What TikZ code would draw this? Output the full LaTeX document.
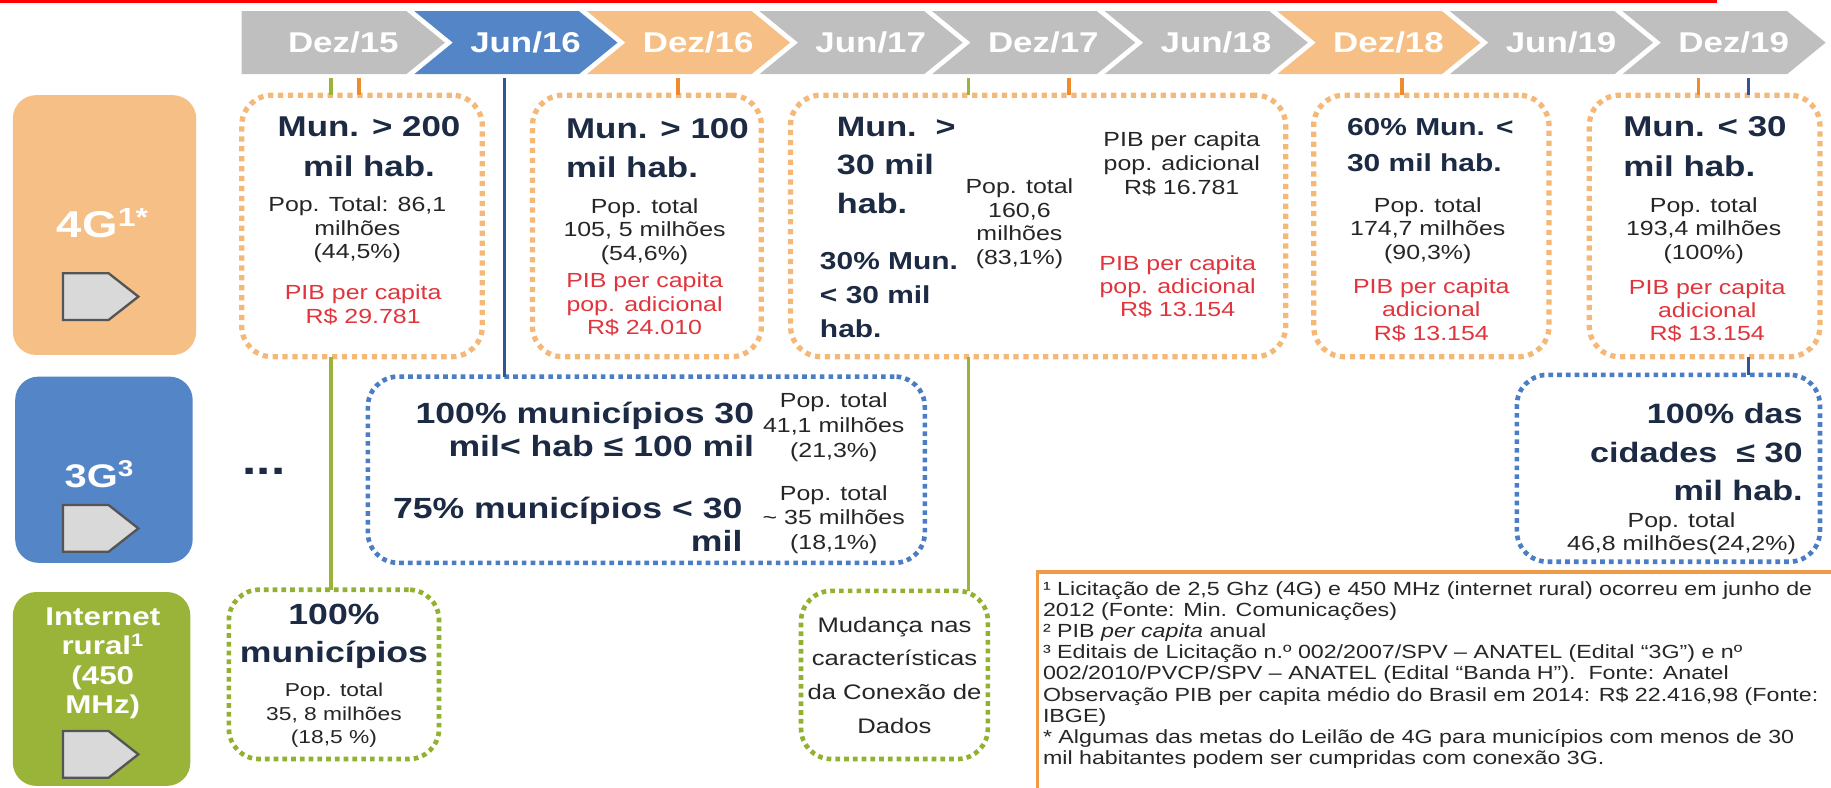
\documentclass[tikz,border=0pt]{standalone}
\usepackage{fontspec}
\setmainfont{Liberation Sans}[FakeStretch=1.22]
\usetikzlibrary{calc}

\definecolor{cgray}{HTML}{BFBFBF}
\definecolor{cblue}{HTML}{5385C7}
\definecolor{corange}{HTML}{F5BF86}
\definecolor{cgreen}{HTML}{9AB43A}
\definecolor{dorange}{HTML}{F4B878}
\definecolor{dblue}{HTML}{4A7DC4}
\definecolor{dgreen}{HTML}{93B130}
\definecolor{torange}{HTML}{EE8B2C}
\definecolor{tblue}{HTML}{2F5597}
\definecolor{hdark}{HTML}{1C2A43}
\definecolor{tdark}{HTML}{262626}
\definecolor{tred}{HTML}{E0353D}
\definecolor{tagfill}{HTML}{D9D9D9}
\definecolor{tagline}{HTML}{555555}
\definecolor{fnline}{HTML}{F09A45}

\newcommand\fsz[2]{\fontsize{#1}{#2}\selectfont}

\begin{document}
\begin{tikzpicture}[x=1pt, y=-1pt,
	chlabel/.style={text=white, font=\bfseries\fsz{24.5}{28}, inner sep=0pt},
	catbox/.style={rounded corners=20pt, inner sep=0pt, outer sep=0pt},
	cattext/.style={text=white, font=\bfseries\fsz{32}{36}, inner sep=0pt, align=center},
	tag/.style={fill=tagfill, draw=tagline, line width=2pt},
	obox/.style={draw=dorange, fill=white, line width=4.5pt, dash pattern=on 4.5pt off 4pt, rounded corners=26pt, inner sep=0pt, outer sep=0pt},
	bbox/.style={obox, draw=dblue, line width=4pt, dash pattern=on 4pt off 3.5pt},
	gbox/.style={obox, draw=dgreen, line width=4pt, dash pattern=on 4pt off 3.5pt},
	head/.style={text=hdark, font=\bfseries\fsz{24.5}{34}, inner sep=0pt},
	small/.style={text=tdark, font=\fsz{17.5}{20}, inner sep=0pt, align=center, anchor=north},
	pib/.style={small, text=tred},
	otick/.style={draw=torange, line width=3pt},
	gline/.style={draw=cgreen, line width=3pt},
	bline/.style={draw=tblue, line width=3pt},
	]

	\useasboundingbox (0,0) rectangle (1568,674);
	\draw[red, line width=3pt] (0,1) -- (1470,1); % top rule

	% time line
	\foreach \m/\yr/\col [count=\i from 0] in {Dez/15/cgray, Jun/16/cblue, Dez/16/corange, Jun/17/cgray, Dez/17/cgray, Jun/18/cgray, Dez/18/corange, Jun/19/cgray, Dez/19/cgray}{
		\pgfmathsetmacro\cx{207+147.8*\i}
		\pgfmathsetmacro\nd{\i==0 ? 0 : 33}
		\fill[\col] (\cx,9.5) -- ++(141,0) -- ++(33,27) -- ++(-33,27) -- ++(-141,0) -- (\cx+\nd,36.5) -- cycle;
		\node[chlabel] (ch\i) at (\cx+87+\nd/4,36.5) {\m/\yr};
	}

	% categories
	\node[catbox, fill=corange, minimum width=157, minimum height=222.5] (cat4g) at (89.5,192.75) {};
	\node[catbox, fill=cblue, minimum width=152, minimum height=159.5] (cat3g) at (89,402.25) {};
	\node[catbox, fill=cgreen, minimum width=152, minimum height=166] (catnet) at (87,590) {};
	\node[cattext] (lbl4g) at (88,191) {4G\textsuperscript{1*}};
	\node[cattext, font=\bfseries\fsz{28}{32}] (lbl3g) at (85,406) {3G\textsuperscript{3}};
	\node[cattext, font=\bfseries\fsz{22}{25}] (lblnet) at (88,568) {Internet\\rural\textsuperscript{1}\\(450\\MHz)};
	\foreach \ty in {234, 432.5, 626}
		\draw[tag] (54,\ty) -- ++(39,0) -- ++(25.5,20) -- ++(-25.5,20) -- ++(-39,0) -- cycle;

	% 4G boxes
	\node[obox, minimum width=206, minimum height=224] (mA) at (310,193.5) {};
	\node[obox, minimum width=196, minimum height=224] (mB) at (554,193.5) {};
	\node[obox, minimum width=424, minimum height=224] (mC) at (889,193.5) {};
	\node[obox, minimum width=201.5, minimum height=224] (mD) at (1225.75,193.5) {};
	\node[obox, minimum width=197.5, minimum height=224] (mE) at (1459.75,193.5) {};

	\node[head, align=center, anchor=north] (hA) at (316,100) {Mun. > 200\\mil hab.};
	\node[small] (pA) at (306,168.5) {Pop. Total: 86,1\\milhões\\(44,5\%)};
	\node[pib] (rA) at (311,244) {PIB per capita\\R\$ 29.781};

	\node[head, align=left, anchor=north west] (hB) at (484.6,101) {Mun. > 100\\mil hab.};
	\node[small] (pB) at (552,170) {Pop. total\\105, 5 milhões\\(54,6\%)};
	\node[pib] (rB) at (552,233.5) {PIB per capita\\pop. adicional\\R\$ 24.010};

	\node[head, align=left, anchor=north west, font=\bfseries\fsz{24}{33}] (hC) at (716.5,100) {Mun.\ \ >\\30 mil\\hab.};
	\node[head, align=left, anchor=north west, font=\bfseries\fsz{21}{29.3}] (hC2) at (702,215.5) {30\% Mun.\\< 30 mil\\hab.};
	\node[small, font=\fsz{17.5}{20.4}] (pC) at (873,152.7) {Pop. total\\160,6\\milhões\\(83,1\%)};
	\node[small, font=\fsz{17.5}{20.3}] (kC) at (1012,112.8) {PIB per capita\\pop. adicional\\R\$ 16.781};
	\node[pib] (rC) at (1008.5,218.4) {PIB per capita\\pop. adicional\\R\$ 13.154};

	\node[head, align=left, anchor=north west, font=\bfseries\fsz{21}{31}] (hD) at (1153.4,101.4) {60\% Mun. <\\30 mil hab.};
	\node[small] (pD) at (1222.7,169) {Pop. total\\174,7 milhões\\(90,3\%)};
	\node[pib] (rD) at (1225.7,238.4) {PIB per capita\\adicional\\R\$ 13.154};

	\node[head, align=left, anchor=north west] (hE) at (1390,100) {Mun. < 30\\mil hab.};
	\node[small] (pE) at (1459,169) {Pop. total\\193,4 milhões\\(100\%)};
	\node[pib] (rE) at (1462,239) {PIB per capita\\adicional\\R\$ 13.154};

	% 3G boxes
	\node[head, font=\bfseries\fsz{36}{36}] (dots) at (226,404) {...};
	\node[bbox, minimum width=477, minimum height=159.5] (b3a) at (553.5,402.25) {};
	\node[head, align=right, anchor=north east, font=\bfseries\fsz{25}{28.5}] (tA1) at (646,344) {100\% municípios 30\\mil< hab ≤ 100 mil};
	\node[head, align=right, anchor=north east, font=\bfseries\fsz{25}{28.5}] (tA2) at (636,425.5) {75\% municípios < 30\\mil};
	\node[small, font=\fsz{17.5}{21.4}] (sA1) at (714,336) {Pop. total\\41,1 milhões\\(21,3\%)};
	\node[small, font=\fsz{17.5}{21}] (sA2) at (714,415.7) {Pop. total\\\textasciitilde{} 35 milhões\\(18,1\%)};

	\node[bbox, minimum width=259.5, minimum height=160] (b3b) at (1428.75,401) {};
	\node[head, align=right, anchor=north east, font=\bfseries\fsz{24}{32.8}] (tB1) at (1544,345.4) {100\% das\\cidades\ \ ≤ 30\\mil hab.};
	\node[small] (sB1) at (1440,438.5) {Pop. total\\46,8 milhões(24,2\%)};

	% internet rural boxes
	\node[gbox, minimum width=180, minimum height=145] (g1) at (286,577.5) {};
	\node[head, align=center, anchor=north, font=\bfseries\fsz{25}{33}] (tg1) at (286,517) {100\%\\municípios};
	\node[small, font=\fsz{16}{20}] (sg1) at (286,585) {Pop. total\\35, 8 milhões\\(18,5 \%)};

	\node[gbox, minimum width=160, minimum height=144] (mud) at (766,578) {};
	\node[small, font=\fsz{18}{29}] (tmud) at (766,528) {Mudança nas\\características\\da Conexão de\\Dados};

	% notes
	\node[draw=fnline, line width=3pt, anchor=north west, minimum width=700, minimum height=200, inner sep=0pt, outer sep=0pt] (notebox) at (888.5,490) {};
	\node[anchor=north west, align=left, inner sep=0pt, text=tdark, font=\fsz{16.3}{18}] (notes) at (893,498.3) {%
		¹ Licitação de 2,5 Ghz (4G) e 450 MHz (internet rural) ocorreu em junho de\\
		2012 (Fonte: Min. Comunicações)\\
		² PIB \textit{per capita} anual\\
		³ Editais de Licitação n.º 002/2007/SPV – ANATEL (Edital “3G”) e nº\\
		002/2010/PVCP/SPV – ANATEL (Edital “Banda H”).\ \ Fonte: Anatel\\
		Observação PIB per capita médio do Brasil em 2014: R\$ 22.416,98 (Fonte:\\
		IBGE)\\
		* Algumas das metas do Leilão de 4G para municípios com menos de 30\\
		mil habitantes podem ser cumpridas com conexão 3G.};

	% ticks and links
	\coordinate (tkA) at (283.5,67);
	\coordinate (tkA2) at (307.5,67);
	\coordinate (tkJ) at (432,67);
	\coordinate (tkB) at (580.5,67);
	\coordinate (tkC) at (829.5,67);
	\coordinate (tkC2) at (915.5,67);
	\coordinate (tkD) at (1200.5,67);
	\coordinate (tkE) at (1454.5,67);
	\coordinate (tkE2) at (1497.5,67);

	\draw[gline] (tkA) -- (mA.north -| tkA);
	\draw[gline] (mA.south -| tkA) -- (g1.north -| tkA);
	\draw[otick] (tkA2) -- (mA.north -| tkA2);
	\draw[bline] (tkJ) -- (b3a.north -| tkJ);
	\draw[otick] (tkB) -- (mB.north -| tkB);
	\draw[gline] (tkC) -- (mC.north -| tkC);
	\draw[gline] (mC.south -| tkC) -- (mud.north -| tkC);
	\draw[otick] (tkC2) -- (mC.north -| tkC2);
	\draw[otick] (tkD) -- (mD.north -| tkD);
	\draw[otick] (tkE) -- (mE.north -| tkE);
	\draw[bline] (tkE2) -- (mE.north -| tkE2);
	\draw[bline] (mE.south -| tkE2) -- (b3b.north -| tkE2);

\end{tikzpicture}
\end{document}
